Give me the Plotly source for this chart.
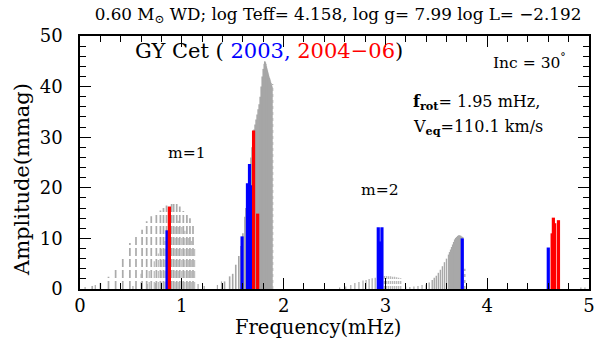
import plotly.graph_objects as go

# --- Observed pulsation frequencies (mHz) and amplitudes (mmag) ---
blue_freq = [0.855, 1.592, 1.645, 1.665, 1.685, 2.930, 2.948, 2.966, 3.755, 4.600]
blue_amp = [11.6, 10.4, 20.9, 24.7, 20.5, 12.2, 9.4, 12.2, 10.0, 8.2]

red_freq = [0.878, 1.705, 1.745, 4.638, 4.650, 4.663, 4.700]
red_amp = [16.3, 31.3, 14.9, 11.0, 14.1, 13.0, 13.6]

# --- Model spectrum: m=1 multiplets (dashed) ---
dash_freq = [0.12, 0.20, 0.28, 0.35, 0.42, 0.49, 0.55, 0.61, 0.655, 0.70, 0.75,
             0.79, 0.82, 0.85, 0.90, 0.92, 0.95, 0.98, 1.015, 1.05, 1.08, 1.11]
dash_amp = [0.6, 1.2, 2.4, 4.1, 6.5, 9.1, 10.7, 11.7, 13.4, 14.4, 15.0,
            15.5, 16.0, 16.5, 17.0, 17.2, 17.1, 16.3, 15.4, 14.7, 14.0, 13.0]

dash2_freq = [0.60, 0.68, 0.73, 0.77, 0.80, 0.835, 0.865, 0.895, 0.935, 0.965,
              1.00, 1.03, 1.065, 1.095, 1.125]
dash2_amp = [3.0, 4.0, 5.5, 7.0, 8.0, 9.5, 10.5, 12.0, 13.0, 13.5,
             12.5, 11.5, 10.5, 9.5, 8.5]

# --- Model spectrum: dense central group ---
dense_freq = [1.42, 1.47, 1.50, 1.53, 1.56, 1.58, 1.60, 1.62, 1.63, 1.64,
              1.65, 1.66, 1.67, 1.68, 1.69, 1.70, 1.71, 1.72, 1.73, 1.74,
              1.75, 1.76, 1.77, 1.78, 1.79, 1.80, 1.81, 1.815, 1.82, 1.825,
              1.83, 1.835, 1.84, 1.845, 1.85, 1.855, 1.86, 1.865, 1.87, 1.875,
              1.88, 1.885]
dense_amp = [1.5, 2.5, 3.0, 4.8, 6.5, 8.5, 11.0, 14.3, 16.0, 18.0,
             20.0, 22.5, 24.5, 26.0, 28.0, 30.0, 31.5, 32.5, 33.5, 34.5,
             35.5, 36.5, 38.0, 40.0, 42.0, 43.5, 44.5, 45.0, 44.8, 44.5,
             44.0, 43.6, 43.2, 42.8, 42.4, 42.0, 41.7, 41.4, 41.0, 40.7,
             40.4, 40.0]

# --- Model spectrum: m=2 region ---
hump_freq = [3.40, 3.43, 3.46, 3.48, 3.50, 3.52, 3.54, 3.56, 3.58, 3.60,
             3.62, 3.63, 3.64, 3.65, 3.66, 3.67, 3.68, 3.69, 3.70, 3.71,
             3.72, 3.73, 3.74, 3.75, 3.76]
hump_amp = [0.9, 1.3, 1.8, 2.2, 2.6, 3.2, 3.8, 4.5, 5.3, 6.0,
            6.8, 7.3, 7.8, 8.3, 8.8, 9.3, 9.8, 10.1, 10.3, 10.5,
            10.6, 10.6, 10.5, 10.4, 10.3]

flat_freq = [2.99, 3.01, 3.03, 3.05, 3.07, 3.09, 3.11, 3.13, 3.15]
flat_amp = [2.6, 2.6, 2.5, 2.5, 2.4, 2.4, 2.3, 2.2, 2.1]

dot_freq = [1.892, 3.78]
dot_amp = [40.5, 4.0]

low_freq = [0.05, 0.15, 0.52, 0.66, 0.74, 1.16, 1.22, 1.35, 1.39, 2.55, 2.61,
            2.66, 2.70, 2.74, 2.78, 2.81, 2.84, 2.87, 2.90, 3.20, 3.24, 3.28,
            3.32, 3.36, 4.92, 4.96]
low_amp = [0.4, 0.8, 0.6, 1.0, 1.2, 1.0, 0.6, 0.8, 1.5, 0.3, 0.5,
           0.8, 1.2, 1.4, 1.7, 1.8, 2.0, 2.1, 2.2, 0.5, 0.4, 0.5,
           0.6, 0.8, 0.3, 0.3]


def sticks(freqs, amps):
    xs, ys = [], []
    for f, a in zip(freqs, amps):
        xs += [f, f, None]
        ys += [0, a, None]
    return xs, ys


FONT = "DejaVu Serif"
fig = go.Figure()


def add_sticks(freqs, amps, color, width, dash="solid"):
    xs, ys = sticks(freqs, amps)
    fig.add_trace(go.Scatter(x=xs, y=ys, mode="lines", hoverinfo="skip",
                             line=dict(color=color, width=width, dash=dash),
                             showlegend=False))


add_sticks(low_freq, low_amp, "#a8a8a8", 1.2)
add_sticks(dash2_freq, dash2_amp, "#c0c0c0", 1.4, "7px,4px")
add_sticks(dash_freq, dash_amp, "#ababab", 1.7, "8px,3px")
add_sticks(dense_freq, dense_amp, "#a6a6a6", 1.6)
add_sticks(flat_freq, flat_amp, "#b8b8b8", 1.4, "3px,2px")
add_sticks(hump_freq, hump_amp, "#a8a8a8", 1.4)
add_sticks(dot_freq, dot_amp, "#b0b0b0", 1.4, "dot")
add_sticks(blue_freq, blue_amp, "#0000ff", 3.2)
add_sticks(red_freq, red_amp, "#ff0000", 3.2)

axis_common = dict(
    showgrid=False, zeroline=False, showline=True, linecolor="black",
    linewidth=1.5, mirror="allticks", ticks="inside", ticklen=11,
    tickwidth=1.2, tickcolor="black",
    tickfont=dict(family=FONT, size=18, color="black"),
)

fig.update_xaxes(range=[0, 5], dtick=1, tick0=0,
                 minor=dict(ticks="inside", ticklen=6, dtick=0.2,
                            tickcolor="black", tickwidth=1),
                 **axis_common)
fig.update_yaxes(range=[0, 50], dtick=10, tick0=0, ticklabelstandoff=12,
                 minor=dict(ticks="inside", ticklen=6, dtick=2,
                            tickcolor="black", tickwidth=1),
                 **axis_common)

annotations = [
    dict(x=0.52, y=47.0, xanchor="left", yanchor="middle",
         text="GY Cet ( <span style='color:#0000ff'>2003,</span> "
              "<span style='color:#ff0000'>2004\u221206</span>)",
         font=dict(family=FONT, size=21, color="black")),
    dict(x=4.04, y=45.0, xanchor="left", yanchor="middle",
         text="Inc = 30<sup>\u00b0</sup>",
         font=dict(family=FONT, size=15.5, color="black")),
    dict(x=3.25, y=36.9, xanchor="left", yanchor="middle",
         text="<b>f</b><sub><b>rot</b></sub>= 1.95 mHz,",
         font=dict(family=FONT, size=16, color="black")),
    dict(x=3.25, y=31.9, xanchor="left", yanchor="middle",
         text="V<sub><b>eq</b></sub>=110.1 km/s",
         font=dict(family=FONT, size=16, color="black")),
    dict(x=1.05, y=26.8, xanchor="center", yanchor="middle",
         text="m=1", font=dict(family=FONT, size=15.5, color="black")),
    dict(x=2.95, y=19.6, xanchor="center", yanchor="middle",
         text="m=2", font=dict(family=FONT, size=15.5, color="black")),
]
for a in annotations:
    a.update(xref="x", yref="y", showarrow=False)

# axis titles placed in pixel-equivalent paper positions
annotations += [
    dict(x=318 / 608, y=1 - 327 / 350, xref="paper", yref="paper",
         xanchor="center", yanchor="middle", showarrow=False,
         text="Frequency(mHz)", font=dict(family=FONT, size=19.5, color="black")),
    dict(x=22 / 608, y=1 - 180 / 350, xref="paper", yref="paper",
         xanchor="center", yanchor="middle", showarrow=False, textangle=-90,
         text="Amplitude(mmag)", font=dict(family=FONT, size=21, color="black")),
]
# convert paper coords (figure-relative) to plot-area-relative
L, R, T, B = 80, 19, 36, 61
pw, ph = 608 - L - R, 350 - T - B
for a in annotations[-2:]:
    px = a["x"] * 608
    py = (1 - a["y"]) * 350
    a["x"] = (px - L) / pw
    a["y"] = 1 - (py - T) / ph

fig.update_layout(
    width=608, height=350,
    margin=dict(l=L, r=R, t=T, b=B),
    paper_bgcolor="white", plot_bgcolor="white",
    title=dict(text="0.60 M<sub>\u2299</sub> WD; log Teff= 4.158, log g= 7.99 log L= \u22122.192",
               x=338 / 608, xref="container", xanchor="center",
               y=1 - 14 / 350, yref="container", yanchor="middle",
               font=dict(family=FONT, size=16.8, color="black")),
    annotations=annotations,
)

fig.write_html("out.html")
